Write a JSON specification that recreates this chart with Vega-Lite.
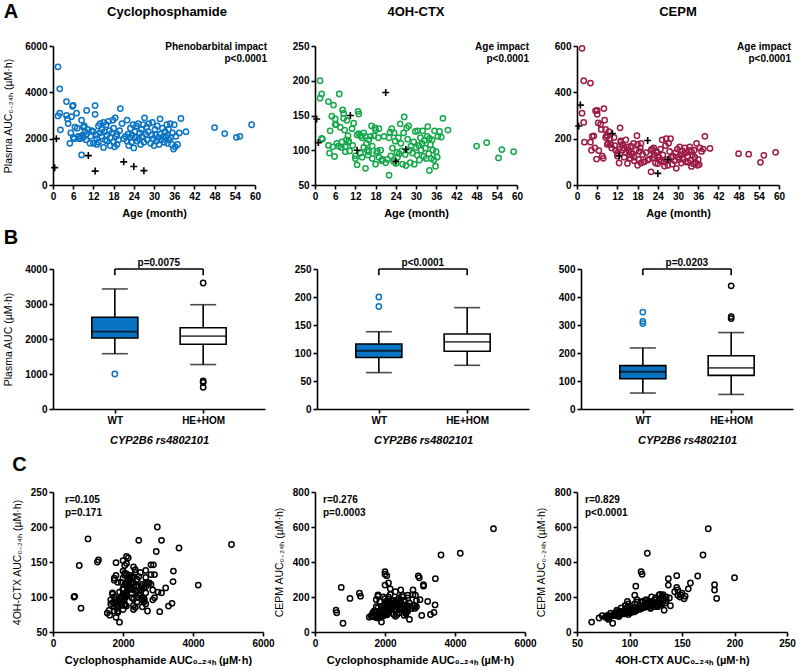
{
  "$schema": "https://vega.github.io/schema/vega-lite/v6.json",
  "padding": {"left": 3, "top": 2, "right": 5, "bottom": 2},
  "datasets": {
    "patients": [
      {"age":1.5,"ctx":5100,"oh":175,"cepm":590,"pb":0},
      {"age":1.5,"ctx":2980,"oh":200,"cepm":310,"pb":0},
      {"age":2,"ctx":4150,"oh":117,"cepm":450,"pb":0},
      {"age":2,"ctx":3100,"oh":181,"cepm":270,"pb":0},
      {"age":2.2,"ctx":2380,"oh":116,"cepm":185,"pb":0},
      {"age":4,"ctx":3600,"oh":170,"cepm":440,"pb":0},
      {"age":4,"ctx":3000,"oh":107,"cepm":185,"pb":0},
      {"age":4.3,"ctx":2850,"oh":96,"cepm":150,"pb":0},
      {"age":4.5,"ctx":2650,"oh":128,"cepm":210,"pb":0},
      {"age":5,"ctx":1800,"oh":149,"cepm":212,"pb":0},
      {"age":5.3,"ctx":2250,"oh":105,"cepm":160,"pb":0},
      {"age":5.5,"ctx":2950,"oh":165,"cepm":320,"pb":0},
      {"age":5.8,"ctx":3400,"oh":91,"cepm":112,"pb":0},
      {"age":6,"ctx":2050,"oh":145,"cepm":322,"pb":0},
      {"age":6,"ctx":3440,"oh":137,"cepm":305,"pb":0},
      {"age":6.3,"ctx":2000,"oh":137,"cepm":268,"pb":0},
      {"age":6.5,"ctx":2500,"oh":110,"cepm":148,"pb":0},
      {"age":7,"ctx":3100,"oh":106,"cepm":262,"pb":0},
      {"age":7.2,"ctx":2450,"oh":181,"cepm":240,"pb":0},
      {"age":7.5,"ctx":2100,"oh":133,"cepm":125,"pb":0},
      {"age":7.8,"ctx":2000,"oh":104,"cepm":115,"pb":0},
      {"age":8,"ctx":2000,"oh":112,"cepm":330,"pb":0},
      {"age":8.2,"ctx":2100,"oh":158,"cepm":280,"pb":0},
      {"age":8.5,"ctx":1300,"oh":153,"cepm":205,"pb":0},
      {"age":8.5,"ctx":2800,"oh":146,"cepm":240,"pb":0},
      {"age":8.8,"ctx":2150,"oh":129,"cepm":215,"pb":0},
      {"age":9,"ctx":2500,"oh":105,"cepm":210,"pb":0},
      {"age":9,"ctx":2050,"oh":98,"cepm":175,"pb":0},
      {"age":9.3,"ctx":2550,"oh":115,"cepm":180,"pb":0},
      {"age":9.5,"ctx":2300,"oh":143,"cepm":230,"pb":0},
      {"age":9.8,"ctx":1950,"oh":121,"cepm":200,"pb":0},
      {"age":10,"ctx":2200,"oh":112,"cepm":175,"pb":0},
      {"age":10,"ctx":3220,"oh":113,"cepm":175,"pb":0},
      {"age":10.3,"ctx":2400,"oh":99,"cepm":160,"pb":0},
      {"age":11,"ctx":1800,"oh":131,"cepm":205,"pb":0},
      {"age":11.2,"ctx":2100,"oh":107,"cepm":170,"pb":0},
      {"age":11.5,"ctx":2350,"oh":139,"cepm":150,"pb":0},
      {"age":12,"ctx":1800,"oh":92,"cepm":138,"pb":0},
      {"age":12,"ctx":2300,"oh":88,"cepm":125,"pb":0},
      {"age":12.5,"ctx":3430,"oh":122,"cepm":155,"pb":0},
      {"age":12.5,"ctx":3050,"oh":79,"cepm":95,"pb":0},
      {"age":12.8,"ctx":2150,"oh":156,"cepm":247,"pb":0},
      {"age":13,"ctx":1750,"oh":124,"cepm":185,"pb":0},
      {"age":13,"ctx":2000,"oh":152,"cepm":190,"pb":0},
      {"age":13.5,"ctx":2550,"oh":96,"cepm":150,"pb":0},
      {"age":13.5,"ctx":1850,"oh":121,"cepm":175,"pb":0},
      {"age":14,"ctx":2650,"oh":90,"cepm":120,"pb":0},
      {"age":14,"ctx":2250,"oh":118,"cepm":160,"pb":0},
      {"age":14.5,"ctx":2400,"oh":125,"cepm":195,"pb":0},
      {"age":14.5,"ctx":2100,"oh":104,"cepm":140,"pb":0},
      {"age":15,"ctx":1620,"oh":74,"cepm":93,"pb":0},
      {"age":15,"ctx":2700,"oh":120,"cepm":165,"pb":0},
      {"age":15.3,"ctx":2300,"oh":110,"cepm":150,"pb":0},
      {"age":15.5,"ctx":1950,"oh":100,"cepm":130,"pb":0},
      {"age":15.8,"ctx":2600,"oh":93,"cepm":115,"pb":0},
      {"age":16,"ctx":2150,"oh":115,"cepm":168,"pb":0},
      {"age":16,"ctx":1900,"oh":98,"cepm":140,"pb":0},
      {"age":16.5,"ctx":2750,"oh":120,"cepm":135,"pb":0},
      {"age":16.8,"ctx":2350,"oh":135,"cepm":180,"pb":0},
      {"age":17,"ctx":1700,"oh":106,"cepm":120,"pb":0},
      {"age":17,"ctx":2050,"oh":88,"cepm":105,"pb":0},
      {"age":17.5,"ctx":2250,"oh":121,"cepm":150,"pb":0},
      {"age":17.8,"ctx":2800,"oh":132,"cepm":213,"pb":0},
      {"age":18,"ctx":1850,"oh":80,"cepm":85,"pb":0},
      {"age":18,"ctx":2450,"oh":129,"cepm":175,"pb":0},
      {"age":18.3,"ctx":1650,"oh":96,"cepm":110,"pb":0},
      {"age":18.5,"ctx":2900,"oh":99,"cepm":145,"pb":0},
      {"age":18.8,"ctx":2100,"oh":118,"cepm":160,"pb":0},
      {"age":19,"ctx":1750,"oh":90,"cepm":95,"pb":0},
      {"age":19,"ctx":2200,"oh":131,"cepm":180,"pb":0},
      {"age":19.5,"ctx":1950,"oh":100,"cepm":132,"pb":0},
      {"age":19.8,"ctx":2350,"oh":85,"cepm":100,"pb":0},
      {"age":20,"ctx":3300,"oh":87,"cepm":100,"pb":0},
      {"age":20.5,"ctx":2650,"oh":120,"cepm":140,"pb":0},
      {"age":21,"ctx":2000,"oh":82,"cepm":108,"pb":0},
      {"age":21.5,"ctx":2100,"oh":87,"cepm":112,"pb":0},
      {"age":22,"ctx":1900,"oh":64,"cepm":57,"pb":0},
      {"age":22,"ctx":2800,"oh":118,"cepm":150,"pb":0},
      {"age":22.3,"ctx":2200,"oh":126,"cepm":155,"pb":0},
      {"age":22.5,"ctx":1700,"oh":92,"cepm":118,"pb":0},
      {"age":22.8,"ctx":2050,"oh":131,"cepm":160,"pb":0},
      {"age":23,"ctx":2450,"oh":103,"cepm":130,"pb":0},
      {"age":23.3,"ctx":1850,"oh":84,"cepm":95,"pb":0},
      {"age":23.5,"ctx":2150,"oh":125,"cepm":145,"pb":0},
      {"age":23.8,"ctx":2600,"oh":113,"cepm":140,"pb":0},
      {"age":24,"ctx":1600,"oh":81,"cepm":92,"pb":0},
      {"age":24.3,"ctx":2300,"oh":97,"cepm":120,"pb":0},
      {"age":24.5,"ctx":2050,"oh":90,"cepm":108,"pb":0},
      {"age":24.8,"ctx":2550,"oh":118,"cepm":155,"pb":0},
      {"age":25,"ctx":1900,"oh":95,"cepm":103,"pb":0},
      {"age":25.3,"ctx":2650,"oh":138,"cepm":195,"pb":0},
      {"age":25.5,"ctx":2000,"oh":110,"cepm":130,"pb":0},
      {"age":25.8,"ctx":2250,"oh":99,"cepm":100,"pb":0},
      {"age":26,"ctx":1750,"oh":80,"cepm":82,"pb":0},
      {"age":26.3,"ctx":2400,"oh":125,"cepm":170,"pb":0},
      {"age":26.5,"ctx":2100,"oh":148,"cepm":200,"pb":0},
      {"age":26.8,"ctx":2600,"oh":94,"cepm":108,"pb":0},
      {"age":27,"ctx":1850,"oh":78,"cepm":85,"pb":0},
      {"age":27.2,"ctx":2900,"oh":132,"cepm":180,"pb":0},
      {"age":27.5,"ctx":2200,"oh":116,"cepm":145,"pb":0},
      {"age":27.8,"ctx":2500,"oh":135,"cepm":200,"pb":0},
      {"age":28,"ctx":1950,"oh":100,"cepm":118,"pb":0},
      {"age":28.3,"ctx":2300,"oh":82,"cepm":90,"pb":0},
      {"age":28.5,"ctx":2650,"oh":106,"cepm":125,"pb":0},
      {"age":29,"ctx":1800,"oh":96,"cepm":105,"pb":0},
      {"age":29.3,"ctx":2150,"oh":112,"cepm":140,"pb":0},
      {"age":29.5,"ctx":2700,"oh":80,"cepm":72,"pb":0},
      {"age":29.8,"ctx":2000,"oh":127,"cepm":155,"pb":0},
      {"age":30,"ctx":1700,"oh":104,"cepm":120,"pb":0},
      {"age":30.3,"ctx":2400,"oh":93,"cepm":110,"pb":0},
      {"age":30.5,"ctx":2150,"oh":128,"cepm":165,"pb":0},
      {"age":30.8,"ctx":1900,"oh":107,"cepm":128,"pb":0},
      {"age":31,"ctx":2550,"oh":86,"cepm":95,"pb":0},
      {"age":31.3,"ctx":2050,"oh":118,"cepm":148,"pb":0},
      {"age":31.5,"ctx":1750,"oh":100,"cepm":112,"pb":0},
      {"age":31.8,"ctx":2850,"oh":110,"cepm":135,"pb":0},
      {"age":32,"ctx":2200,"oh":128,"cepm":160,"pb":0},
      {"age":32.3,"ctx":1950,"oh":91,"cepm":100,"pb":0},
      {"age":32.5,"ctx":2450,"oh":114,"cepm":140,"pb":0},
      {"age":32.8,"ctx":2100,"oh":103,"cepm":125,"pb":0},
      {"age":33,"ctx":1850,"oh":88,"cepm":98,"pb":0},
      {"age":33.3,"ctx":2300,"oh":120,"cepm":150,"pb":0},
      {"age":33.5,"ctx":2050,"oh":134,"cepm":165,"pb":0},
      {"age":33.8,"ctx":2600,"oh":95,"cepm":105,"pb":0},
      {"age":34,"ctx":1800,"oh":71,"cepm":80,"pb":0},
      {"age":34,"ctx":2150,"oh":117,"cepm":145,"pb":0},
      {"age":34.3,"ctx":2400,"oh":108,"cepm":130,"pb":0},
      {"age":34.5,"ctx":1950,"oh":88,"cepm":92,"pb":0},
      {"age":34.8,"ctx":2650,"oh":115,"cepm":150,"pb":0},
      {"age":35,"ctx":2050,"oh":100,"cepm":120,"pb":0},
      {"age":35.3,"ctx":1750,"oh":86,"cepm":95,"pb":0},
      {"age":35.5,"ctx":2250,"oh":128,"cepm":180,"pb":0},
      {"age":35.8,"ctx":1550,"oh":77,"cepm":85,"pb":0},
      {"age":36,"ctx":2600,"oh":98,"cepm":110,"pb":0},
      {"age":36.3,"ctx":1650,"oh":90,"cepm":88,"pb":0},
      {"age":36.5,"ctx":2100,"oh":120,"cepm":160,"pb":0},
      {"age":37,"ctx":1750,"oh":127,"cepm":145,"pb":0},
      {"age":37.5,"ctx":2250,"oh":119,"cepm":155,"pb":0},
      {"age":38,"ctx":2870,"oh":146,"cepm":210,"pb":0},
      {"age":39.5,"ctx":2300,"oh":129,"cepm":158,"pb":0},
      {"age":48,"ctx":2480,"oh":106,"cepm":135,"pb":0},
      {"age":51,"ctx":2220,"oh":111,"cepm":133,"pb":0},
      {"age":54.5,"ctx":2060,"oh":89,"cepm":98,"pb":0},
      {"age":55.5,"ctx":2100,"oh":101,"cepm":128,"pb":0},
      {"age":59,"ctx":2600,"oh":98,"cepm":141,"pb":0},
      {"age":0.5,"ctx":750,"oh":145,"cepm":255,"pb":1},
      {"age":1,"ctx":2000,"oh":111,"cepm":345,"pb":1},
      {"age":10.5,"ctx":1270,"oh":150,"cepm":222,"pb":1},
      {"age":12.5,"ctx":600,"oh":100,"cepm":125,"pb":1},
      {"age":21,"ctx":1000,"oh":183,"cepm":192,"pb":1},
      {"age":24,"ctx":800,"oh":84,"cepm":50,"pb":1},
      {"age":27,"ctx":620,"oh":101,"cepm":110,"pb":1}
    ],
    "boxes": [
      {"panel":"ctx","group":"WT","lo":1580,"q1":2030,"med":2210,"q3":2620,"hi":3430},
      {"panel":"ctx","group":"HE+HOM","lo":1270,"q1":1850,"med":2080,"q3":2320,"hi":2980},
      {"panel":"oh","group":"WT","lo":65,"q1":92,"med":104,"q3":116,"hi":138},
      {"panel":"oh","group":"HE+HOM","lo":78,"q1":103,"med":120,"q3":134,"hi":181},
      {"panel":"cepm","group":"WT","lo":57,"q1":108,"med":133,"q3":155,"hi":218},
      {"panel":"cepm","group":"HE+HOM","lo":52,"q1":120,"med":147,"q3":190,"hi":273}
    ],
    "outliers": [
      {"panel":"ctx","group":"WT","v":1000},
      {"panel":"ctx","group":"HE+HOM","v":3600},
      {"panel":"ctx","group":"HE+HOM","v":760},
      {"panel":"ctx","group":"HE+HOM","v":620},
      {"panel":"ctx","group":"HE+HOM","v":800},
      {"panel":"oh","group":"WT","v":200},
      {"panel":"oh","group":"WT","v":183},
      {"panel":"cepm","group":"WT","v":346},
      {"panel":"cepm","group":"WT","v":313},
      {"panel":"cepm","group":"WT","v":305},
      {"panel":"cepm","group":"HE+HOM","v":440},
      {"panel":"cepm","group":"HE+HOM","v":323},
      {"panel":"cepm","group":"HE+HOM","v":330}
    ],
    "brackets": [
      {"panel":"ctx","a":"WT","b":"HE+HOM","top":4000,"foot":3820,"label":"p=0.0075"},
      {"panel":"oh","a":"WT","b":"HE+HOM","top":250,"foot":239,"label":"p<0.0001"},
      {"panel":"cepm","a":"WT","b":"HE+HOM","top":500,"foot":478,"label":"p=0.0203"}
    ],
    "notes": [
      {"panel":"A1","text":"Phenobarbital impact\np<0.0001"},
      {"panel":"A2","text":"Age impact\np<0.0001"},
      {"panel":"A3","text":"Age impact\np<0.0001"},
      {"panel":"C1","text":"r=0.105\np=0.171"},
      {"panel":"C2","text":"r=0.276\np=0.0003"},
      {"panel":"C3","text":"r=0.829\np<0.0001"}
    ]
  },
  "spacing": 10,
  "vconcat": [
    {
      "title": {"text": "A", "anchor": "start", "frame": "bounds", "fontSize": 20, "offset": -16},
      "spacing": 60,
      "bounds": "flush",
      "hconcat": [
        {
          "width": 202, "height": 139,
          "title": {"text": "Cyclophosphamide", "dx": 13, "offset": 22},
          "layer": [
            {"data": {"name": "patients"}, "transform": [{"filter": "datum.pb == 0"}],
             "mark": {"type": "point", "shape": "circle", "filled": false, "color": "#0a74c4", "strokeWidth": 1.5, "size": 28, "opacity": 1},
             "encoding": {
               "x": {"field": "age", "type": "quantitative", "scale": {"domain": [0, 60], "nice": false}, "axis": {"values": [0,6,12,18,24,30,36,42,48,54,60], "tickCount": 20, "labelOverlap": false, "title": "Age (month)"}},
               "y": {"field": "ctx", "type": "quantitative", "scale": {"domain": [0, 6000], "nice": false}, "axis": {"values": [0,2000,4000,6000], "tickCount": 20, "labelOverlap": false, "title": "Plasma AUC₀₋₂₄ₕ (µM·h)"}}}},
            {"data": {"name": "patients"}, "transform": [{"filter": "datum.pb == 1"}],
             "mark": {"type": "point", "shape": "M-1,0H1M0,-1V1", "filled": false, "color": "black", "strokeWidth": 1.6, "size": 49, "opacity": 1},
             "encoding": {"x": {"field": "age", "type": "quantitative"}, "y": {"field": "ctx", "type": "quantitative"}}},
            {"data": {"name": "notes"}, "transform": [{"filter": "datum.panel == 'A1'"}],
             "mark": {"type": "text", "align": "right", "baseline": "top", "fontWeight": "bold", "fontSize": 10, "lineBreak": "\n", "lineHeight": 12, "dx": 12, "dy": -4, "color": "black"},
             "encoding": {"x": {"datum": 60}, "y": {"datum": 6000}, "text": {"field": "text"}}}
          ]
        },
        {
          "width": 202, "height": 139,
          "title": {"text": "4OH-CTX", "offset": 22},
          "layer": [
            {"data": {"name": "patients"}, "transform": [{"filter": "datum.pb == 0"}],
             "mark": {"type": "point", "shape": "circle", "filled": false, "color": "#14a84a", "strokeWidth": 1.5, "size": 28, "opacity": 1},
             "encoding": {
               "x": {"field": "age", "type": "quantitative", "scale": {"domain": [0, 60], "nice": false}, "axis": {"values": [0,6,12,18,24,30,36,42,48,54,60], "tickCount": 20, "labelOverlap": false, "title": "Age (month)"}},
               "y": {"field": "oh", "type": "quantitative", "scale": {"domain": [50, 250], "nice": false, "zero": false}, "axis": {"values": [50,100,150,200,250], "tickCount": 20, "labelOverlap": false, "title": null}}}},
            {"data": {"name": "patients"}, "transform": [{"filter": "datum.pb == 1"}],
             "mark": {"type": "point", "shape": "M-1,0H1M0,-1V1", "filled": false, "color": "black", "strokeWidth": 1.6, "size": 49, "opacity": 1},
             "encoding": {"x": {"field": "age", "type": "quantitative"}, "y": {"field": "oh", "type": "quantitative"}}},
            {"data": {"name": "notes"}, "transform": [{"filter": "datum.panel == 'A2'"}],
             "mark": {"type": "text", "align": "right", "baseline": "top", "fontWeight": "bold", "fontSize": 10, "lineBreak": "\n", "lineHeight": 12, "dx": 12, "dy": -4, "color": "black"},
             "encoding": {"x": {"datum": 60}, "y": {"datum": 250}, "text": {"field": "text"}}}
          ]
        },
        {
          "width": 202, "height": 139,
          "title": {"text": "CEPM", "offset": 22},
          "layer": [
            {"data": {"name": "patients"}, "transform": [{"filter": "datum.pb == 0"}],
             "mark": {"type": "point", "shape": "circle", "filled": false, "color": "#9c1c47", "strokeWidth": 1.5, "size": 28, "opacity": 1},
             "encoding": {
               "x": {"field": "age", "type": "quantitative", "scale": {"domain": [0, 60], "nice": false}, "axis": {"values": [0,6,12,18,24,30,36,42,48,54,60], "tickCount": 20, "labelOverlap": false, "title": "Age (month)"}},
               "y": {"field": "cepm", "type": "quantitative", "scale": {"domain": [0, 600], "nice": false}, "axis": {"values": [0,200,400,600], "tickCount": 20, "labelOverlap": false, "title": null}}}},
            {"data": {"name": "patients"}, "transform": [{"filter": "datum.pb == 1"}],
             "mark": {"type": "point", "shape": "M-1,0H1M0,-1V1", "filled": false, "color": "black", "strokeWidth": 1.6, "size": 49, "opacity": 1},
             "encoding": {"x": {"field": "age", "type": "quantitative"}, "y": {"field": "cepm", "type": "quantitative"}}},
            {"data": {"name": "notes"}, "transform": [{"filter": "datum.panel == 'A3'"}],
             "mark": {"type": "text", "align": "right", "baseline": "top", "fontWeight": "bold", "fontSize": 10, "lineBreak": "\n", "lineHeight": 12, "dx": 12, "dy": -4, "color": "black"},
             "encoding": {"x": {"datum": 60}, "y": {"datum": 600}, "text": {"field": "text"}}}
          ]
        }
      ]
    },
    {
      "title": {"text": "B", "anchor": "start", "frame": "bounds", "fontSize": 20, "offset": 10},
      "spacing": 52,
      "bounds": "flush",
      "hconcat": [
        {
          "width": 212, "height": 140,
          "layer": [
            {"data": {"name": "boxes"}, "transform": [{"filter": "datum.panel == 'ctx'"}],
             "mark": {"type": "rule", "color": "black", "strokeWidth": 1.6},
             "encoding": {
               "x": {"field": "group", "type": "nominal", "scale": {"type": "point", "domain": ["WT","HE+HOM"], "padding": 0.7}, "axis": {"title": "CYP2B6 rs4802101", "titleFontStyle": "italic", "labelAngle": 0, "titlePadding": 9}},
               "y": {"field": "lo", "type": "quantitative", "scale": {"domain": [0, 4000], "nice": false}, "axis": {"values": [0,1000,2000,3000,4000], "tickCount": 20, "labelOverlap": false, "title": "Plasma AUC (µM·h)"}},
               "y2": {"field": "hi"}}},
            {"data": {"name": "boxes"}, "transform": [{"filter": "datum.panel == 'ctx'"}],
             "mark": {"type": "tick", "color": "black", "size": 26, "thickness": 1.6, "orient": "horizontal"},
             "encoding": {"x": {"field": "group", "type": "nominal"}, "y": {"field": "lo", "type": "quantitative"}}},
            {"data": {"name": "boxes"}, "transform": [{"filter": "datum.panel == 'ctx'"}],
             "mark": {"type": "tick", "color": "black", "size": 26, "thickness": 1.6, "orient": "horizontal"},
             "encoding": {"x": {"field": "group", "type": "nominal"}, "y": {"field": "hi", "type": "quantitative"}}},
            {"data": {"name": "boxes"}, "transform": [{"filter": "datum.panel == 'ctx'"}],
             "mark": {"type": "bar", "width": 46, "stroke": "black", "strokeWidth": 1.6},
             "encoding": {"x": {"field": "group", "type": "nominal"}, "y": {"field": "q1", "type": "quantitative"}, "y2": {"field": "q3"},
               "fill": {"field": "group", "type": "nominal", "scale": {"domain": ["WT","HE+HOM"], "range": ["#0a74c4","white"]}, "legend": null}}},
            {"data": {"name": "boxes"}, "transform": [{"filter": "datum.panel == 'ctx'"}],
             "mark": {"type": "tick", "color": "black", "size": 46, "thickness": 1.8, "orient": "horizontal"},
             "encoding": {"x": {"field": "group", "type": "nominal"}, "y": {"field": "med", "type": "quantitative"}}},
            {"data": {"name": "outliers"}, "transform": [{"filter": "datum.panel == 'ctx'"}],
             "mark": {"type": "point", "shape": "circle", "filled": false, "strokeWidth": 1.5, "size": 28, "opacity": 1},
             "encoding": {"x": {"field": "group", "type": "nominal"}, "y": {"field": "v", "type": "quantitative"},
               "stroke": {"field": "group", "type": "nominal", "scale": {"domain": ["WT","HE+HOM"], "range": ["#0a74c4","black"]}, "legend": null}}},
            {"data": {"name": "brackets"}, "transform": [{"filter": "datum.panel == 'ctx'"}],
             "mark": {"type": "rule", "color": "black", "strokeWidth": 1.6},
             "encoding": {"x": {"field": "a", "type": "nominal"}, "x2": {"field": "b"}, "y": {"field": "top", "type": "quantitative"}}},
            {"data": {"name": "brackets"}, "transform": [{"filter": "datum.panel == 'ctx'"}],
             "mark": {"type": "rule", "color": "black", "strokeWidth": 1.6},
             "encoding": {"x": {"field": "a", "type": "nominal"}, "y": {"field": "top", "type": "quantitative"}, "y2": {"field": "foot"}}},
            {"data": {"name": "brackets"}, "transform": [{"filter": "datum.panel == 'ctx'"}],
             "mark": {"type": "rule", "color": "black", "strokeWidth": 1.6},
             "encoding": {"x": {"field": "b", "type": "nominal"}, "y": {"field": "top", "type": "quantitative"}, "y2": {"field": "foot"}}},
            {"data": {"name": "brackets"}, "transform": [{"filter": "datum.panel == 'ctx'"}],
             "mark": {"type": "text", "align": "center", "baseline": "bottom", "fontWeight": "bold", "fontSize": 10, "dx": 44, "dy": -1, "color": "black"},
             "encoding": {"x": {"field": "a", "type": "nominal"}, "y": {"field": "top", "type": "quantitative"}, "text": {"field": "label"}}}
          ]
        },
        {
          "width": 212, "height": 140,
          "layer": [
            {"data": {"name": "boxes"}, "transform": [{"filter": "datum.panel == 'oh'"}],
             "mark": {"type": "rule", "color": "black", "strokeWidth": 1.6},
             "encoding": {
               "x": {"field": "group", "type": "nominal", "scale": {"type": "point", "domain": ["WT","HE+HOM"], "padding": 0.7}, "axis": {"title": "CYP2B6 rs4802101", "titleFontStyle": "italic", "labelAngle": 0, "titlePadding": 9}},
               "y": {"field": "lo", "type": "quantitative", "scale": {"domain": [0, 250], "nice": false}, "axis": {"values": [0,50,100,150,200,250], "tickCount": 20, "labelOverlap": false, "title": null}},
               "y2": {"field": "hi"}}},
            {"data": {"name": "boxes"}, "transform": [{"filter": "datum.panel == 'oh'"}],
             "mark": {"type": "tick", "color": "black", "size": 26, "thickness": 1.6, "orient": "horizontal"},
             "encoding": {"x": {"field": "group", "type": "nominal"}, "y": {"field": "lo", "type": "quantitative"}}},
            {"data": {"name": "boxes"}, "transform": [{"filter": "datum.panel == 'oh'"}],
             "mark": {"type": "tick", "color": "black", "size": 26, "thickness": 1.6, "orient": "horizontal"},
             "encoding": {"x": {"field": "group", "type": "nominal"}, "y": {"field": "hi", "type": "quantitative"}}},
            {"data": {"name": "boxes"}, "transform": [{"filter": "datum.panel == 'oh'"}],
             "mark": {"type": "bar", "width": 46, "stroke": "black", "strokeWidth": 1.6},
             "encoding": {"x": {"field": "group", "type": "nominal"}, "y": {"field": "q1", "type": "quantitative"}, "y2": {"field": "q3"},
               "fill": {"field": "group", "type": "nominal", "scale": {"domain": ["WT","HE+HOM"], "range": ["#14a84a","white"]}, "legend": null}}},
            {"data": {"name": "boxes"}, "transform": [{"filter": "datum.panel == 'oh'"}],
             "mark": {"type": "tick", "color": "black", "size": 46, "thickness": 1.8, "orient": "horizontal"},
             "encoding": {"x": {"field": "group", "type": "nominal"}, "y": {"field": "med", "type": "quantitative"}}},
            {"data": {"name": "outliers"}, "transform": [{"filter": "datum.panel == 'oh'"}],
             "mark": {"type": "point", "shape": "circle", "filled": false, "strokeWidth": 1.5, "size": 28, "opacity": 1},
             "encoding": {"x": {"field": "group", "type": "nominal"}, "y": {"field": "v", "type": "quantitative"},
               "stroke": {"field": "group", "type": "nominal", "scale": {"domain": ["WT","HE+HOM"], "range": ["#14a84a","black"]}, "legend": null}}},
            {"data": {"name": "brackets"}, "transform": [{"filter": "datum.panel == 'oh'"}],
             "mark": {"type": "rule", "color": "black", "strokeWidth": 1.6},
             "encoding": {"x": {"field": "a", "type": "nominal"}, "x2": {"field": "b"}, "y": {"field": "top", "type": "quantitative"}}},
            {"data": {"name": "brackets"}, "transform": [{"filter": "datum.panel == 'oh'"}],
             "mark": {"type": "rule", "color": "black", "strokeWidth": 1.6},
             "encoding": {"x": {"field": "a", "type": "nominal"}, "y": {"field": "top", "type": "quantitative"}, "y2": {"field": "foot"}}},
            {"data": {"name": "brackets"}, "transform": [{"filter": "datum.panel == 'oh'"}],
             "mark": {"type": "rule", "color": "black", "strokeWidth": 1.6},
             "encoding": {"x": {"field": "b", "type": "nominal"}, "y": {"field": "top", "type": "quantitative"}, "y2": {"field": "foot"}}},
            {"data": {"name": "brackets"}, "transform": [{"filter": "datum.panel == 'oh'"}],
             "mark": {"type": "text", "align": "center", "baseline": "bottom", "fontWeight": "bold", "fontSize": 10, "dx": 44, "dy": -1, "color": "black"},
             "encoding": {"x": {"field": "a", "type": "nominal"}, "y": {"field": "top", "type": "quantitative"}, "text": {"field": "label"}}}
          ]
        },
        {
          "width": 212, "height": 140,
          "layer": [
            {"data": {"name": "boxes"}, "transform": [{"filter": "datum.panel == 'cepm'"}],
             "mark": {"type": "rule", "color": "black", "strokeWidth": 1.6},
             "encoding": {
               "x": {"field": "group", "type": "nominal", "scale": {"type": "point", "domain": ["WT","HE+HOM"], "padding": 0.7}, "axis": {"title": "CYP2B6 rs4802101", "titleFontStyle": "italic", "labelAngle": 0, "titlePadding": 9}},
               "y": {"field": "lo", "type": "quantitative", "scale": {"domain": [0, 500], "nice": false}, "axis": {"values": [0,100,200,300,400,500], "tickCount": 20, "labelOverlap": false, "title": null}},
               "y2": {"field": "hi"}}},
            {"data": {"name": "boxes"}, "transform": [{"filter": "datum.panel == 'cepm'"}],
             "mark": {"type": "tick", "color": "black", "size": 26, "thickness": 1.6, "orient": "horizontal"},
             "encoding": {"x": {"field": "group", "type": "nominal"}, "y": {"field": "lo", "type": "quantitative"}}},
            {"data": {"name": "boxes"}, "transform": [{"filter": "datum.panel == 'cepm'"}],
             "mark": {"type": "tick", "color": "black", "size": 26, "thickness": 1.6, "orient": "horizontal"},
             "encoding": {"x": {"field": "group", "type": "nominal"}, "y": {"field": "hi", "type": "quantitative"}}},
            {"data": {"name": "boxes"}, "transform": [{"filter": "datum.panel == 'cepm'"}],
             "mark": {"type": "bar", "width": 46, "stroke": "black", "strokeWidth": 1.6},
             "encoding": {"x": {"field": "group", "type": "nominal"}, "y": {"field": "q1", "type": "quantitative"}, "y2": {"field": "q3"},
               "fill": {"field": "group", "type": "nominal", "scale": {"domain": ["WT","HE+HOM"], "range": ["#9c1c47","white"]}, "legend": null}}},
            {"data": {"name": "boxes"}, "transform": [{"filter": "datum.panel == 'cepm'"}],
             "mark": {"type": "tick", "color": "black", "size": 46, "thickness": 1.8, "orient": "horizontal"},
             "encoding": {"x": {"field": "group", "type": "nominal"}, "y": {"field": "med", "type": "quantitative"}}},
            {"data": {"name": "outliers"}, "transform": [{"filter": "datum.panel == 'cepm'"}],
             "mark": {"type": "point", "shape": "circle", "filled": false, "strokeWidth": 1.5, "size": 28, "opacity": 1},
             "encoding": {"x": {"field": "group", "type": "nominal"}, "y": {"field": "v", "type": "quantitative"},
               "stroke": {"field": "group", "type": "nominal", "scale": {"domain": ["WT","HE+HOM"], "range": ["#9c1c47","black"]}, "legend": null}}},
            {"data": {"name": "brackets"}, "transform": [{"filter": "datum.panel == 'cepm'"}],
             "mark": {"type": "rule", "color": "black", "strokeWidth": 1.6},
             "encoding": {"x": {"field": "a", "type": "nominal"}, "x2": {"field": "b"}, "y": {"field": "top", "type": "quantitative"}}},
            {"data": {"name": "brackets"}, "transform": [{"filter": "datum.panel == 'cepm'"}],
             "mark": {"type": "rule", "color": "black", "strokeWidth": 1.6},
             "encoding": {"x": {"field": "a", "type": "nominal"}, "y": {"field": "top", "type": "quantitative"}, "y2": {"field": "foot"}}},
            {"data": {"name": "brackets"}, "transform": [{"filter": "datum.panel == 'cepm'"}],
             "mark": {"type": "rule", "color": "black", "strokeWidth": 1.6},
             "encoding": {"x": {"field": "b", "type": "nominal"}, "y": {"field": "top", "type": "quantitative"}, "y2": {"field": "foot"}}},
            {"data": {"name": "brackets"}, "transform": [{"filter": "datum.panel == 'cepm'"}],
             "mark": {"type": "text", "align": "center", "baseline": "bottom", "fontWeight": "bold", "fontSize": 10, "dx": 44, "dy": -1, "color": "black"},
             "encoding": {"x": {"field": "a", "type": "nominal"}, "y": {"field": "top", "type": "quantitative"}, "text": {"field": "label"}}}
          ]
        }
      ]
    },
    {
      "title": {"text": "C", "anchor": "start", "frame": "bounds", "fontSize": 20, "offset": 12},
      "spacing": 52,
      "bounds": "flush",
      "hconcat": [
        {
          "width": 210, "height": 140,
          "layer": [
            {"data": {"name": "patients"},
             "mark": {"type": "point", "shape": "circle", "filled": false, "color": "black", "strokeWidth": 1.5, "size": 28, "opacity": 1},
             "encoding": {
               "x": {"field": "ctx", "type": "quantitative", "scale": {"domain": [0, 6000], "nice": false}, "axis": {"values": [0,2000,4000,6000], "tickCount": 20, "labelOverlap": false, "title": "Cyclophosphamide AUC₀₋₂₄ₕ (µM·h)"}},
               "y": {"field": "oh", "type": "quantitative", "scale": {"domain": [50, 250], "nice": false, "zero": false}, "axis": {"values": [50,100,150,200,250], "tickCount": 20, "labelOverlap": false, "title": "4OH-CTX AUC₀₋₂₄ₕ (µM·h)", "titlePadding": 8}}}},
            {"data": {"name": "notes"}, "transform": [{"filter": "datum.panel == 'C1'"}],
             "mark": {"type": "text", "align": "left", "baseline": "top", "fontWeight": "bold", "fontSize": 10, "lineBreak": "\n", "lineHeight": 13, "dx": 12, "dy": 3, "color": "black"},
             "encoding": {"x": {"datum": 0}, "y": {"datum": 250}, "text": {"field": "text"}}}
          ]
        },
        {
          "width": 210, "height": 140,
          "layer": [
            {"data": {"name": "patients"},
             "mark": {"type": "point", "shape": "circle", "filled": false, "color": "black", "strokeWidth": 1.5, "size": 28, "opacity": 1},
             "encoding": {
               "x": {"field": "ctx", "type": "quantitative", "scale": {"domain": [0, 6000], "nice": false}, "axis": {"values": [0,2000,4000,6000], "tickCount": 20, "labelOverlap": false, "title": "Cyclophosphamide AUC₀₋₂₄ₕ (µM·h)"}},
               "y": {"field": "cepm", "type": "quantitative", "scale": {"domain": [0, 800], "nice": false}, "axis": {"values": [0,200,400,600,800], "tickCount": 20, "labelOverlap": false, "title": "CEPM AUC₀₋₂₄ₕ (µM·h)", "titlePadding": 8}}}},
            {"data": {"name": "notes"}, "transform": [{"filter": "datum.panel == 'C2'"}],
             "mark": {"type": "text", "align": "left", "baseline": "top", "fontWeight": "bold", "fontSize": 10, "lineBreak": "\n", "lineHeight": 13, "dx": 8, "dy": 3, "color": "black"},
             "encoding": {"x": {"datum": 0}, "y": {"datum": 800}, "text": {"field": "text"}}}
          ]
        },
        {
          "width": 210, "height": 140,
          "layer": [
            {"data": {"name": "patients"},
             "mark": {"type": "point", "shape": "circle", "filled": false, "color": "black", "strokeWidth": 1.5, "size": 28, "opacity": 1},
             "encoding": {
               "x": {"field": "oh", "type": "quantitative", "scale": {"domain": [50, 250], "nice": false, "zero": false}, "axis": {"values": [50,100,150,200,250], "tickCount": 20, "labelOverlap": false, "title": "4OH-CTX AUC₀₋₂₄ₕ (µM·h)"}},
               "y": {"field": "cepm", "type": "quantitative", "scale": {"domain": [0, 800], "nice": false}, "axis": {"values": [0,200,400,600,800], "tickCount": 20, "labelOverlap": false, "title": "CEPM AUC₀₋₂₄ₕ (µM·h)", "titlePadding": 8}}}},
            {"data": {"name": "notes"}, "transform": [{"filter": "datum.panel == 'C3'"}],
             "mark": {"type": "text", "align": "left", "baseline": "top", "fontWeight": "bold", "fontSize": 10, "lineBreak": "\n", "lineHeight": 13, "dx": 8, "dy": 3, "color": "black"},
             "encoding": {"x": {"datum": 50}, "y": {"datum": 800}, "text": {"field": "text"}}}
          ]
        }
      ]
    }
  ],
  "config": {
    "font": "Liberation Sans",
    "view": {"stroke": null},
    "axis": {"grid": false, "labelOverlap": false, "domainColor": "black", "domainWidth": 1.6, "tickColor": "black", "tickWidth": 1.6, "tickSize": 4, "labelColor": "black", "labelFontSize": 10, "labelFontWeight": "bold", "labelFont": "Liberation Sans", "labelPadding": 2, "titleColor": "black", "titleFont": "Liberation Sans"},
    "axisQuantitative": {"format": "d"},
    "axisX": {"titleFontSize": 11, "titleFontWeight": "bold", "labelAngle": 0, "titlePadding": 6, "labelFlush": false},
    "axisY": {"titleFontSize": 10.5, "titleFontWeight": "normal", "titlePadding": 11},
    "title": {"fontSize": 13, "fontWeight": "bold", "color": "black", "font": "Liberation Sans"}
  }
}
